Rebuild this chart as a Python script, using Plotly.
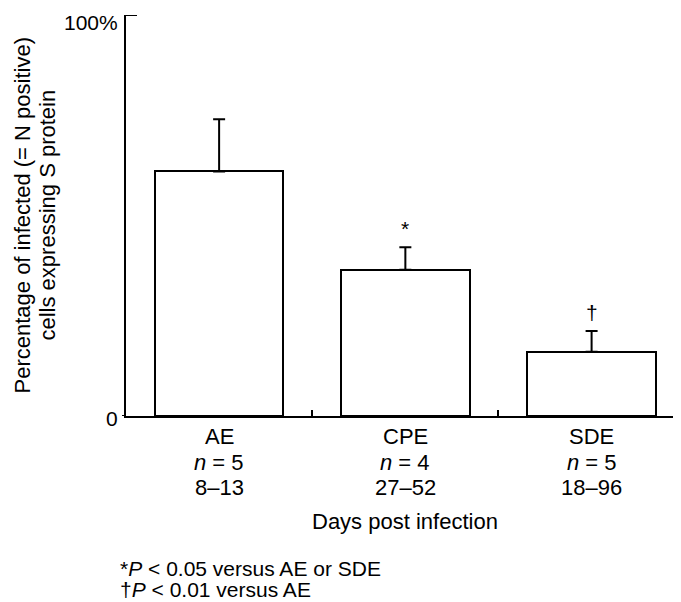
import plotly.graph_objects as go

categories = ["AE", "CPE", "SDE"]
n_labels = ["<i>n</i> = 5", "<i>n</i> = 4", "<i>n</i> = 5"]
day_ranges = ["8–13", "27–52", "18–96"]
values = [61.0, 36.5, 16.0]
errors_up = [13.0, 5.6, 5.2]
sig_marks = ["", "*", "†"]
y_tickvals = [0, 100]
y_ticktext = ["0", "100%"]
footnotes = ["*<i>P</i> < 0.05 versus AE or SDE", "†<i>P</i> < 0.01 versus AE"]
y_title_lines = ["Percentage of infected (= N positive)", "cells expressing S protein"]

FONT = "Liberation Sans, Arial, sans-serif"
xpos = list(range(len(categories)))
PLOT_W = 555.0
PLOT_H = 401.0
BASE = 416.0  # page pixel of the baseline


def py(page_y):
    return (BASE - page_y) / PLOT_H


fig = go.Figure()
fig.add_trace(go.Bar(
    x=xpos, y=values, width=0.69,
    marker=dict(color="white", line=dict(color="black", width=2)),
    error_y=dict(type="data", array=errors_up, arrayminus=[0] * len(values),
                 symmetric=False, color="black", thickness=2, width=6),
    showlegend=False,
))

tf = dict(size=22, family=FONT, color="black")
ann = []
for i, c in enumerate(categories):
    for txt, yy in ((c, 436), (n_labels[i], 462), (day_ranges[i], 488)):
        ann.append(dict(x=i, y=py(yy), xref="x", yref="paper", text=txt, showarrow=False,
                        yanchor="middle", font=tf))
    if sig_marks[i]:
        ann.append(dict(x=i, y=values[i] + errors_up[i] + 1.3, xref="x", yref="y",
                        text=sig_marks[i], showarrow=False, yanchor="bottom",
                        font=dict(size=21, family=FONT, color="black")))

ann.append(dict(x=1, y=py(521), xref="x", yref="paper", text="Days post infection",
                showarrow=False, yanchor="middle", font=tf))
for k, t in enumerate(footnotes):
    ann.append(dict(x=-8 / PLOT_W, y=py(568 + 21 * k), xref="paper", yref="paper", text=t,
                    showarrow=False, xanchor="left", yanchor="middle",
                    font=dict(size=21, family=FONT, color="black")))

for k, t in enumerate(y_title_lines):
    ann.append(dict(x=(22 + 25 * k - 126) / PLOT_W, y=0.5, xref="paper", yref="paper",
                    text=t, textangle=-90, showarrow=False, xanchor="center", yanchor="middle",
                    font=dict(size=22, family=FONT, color="black")))

# y tick labels as annotations (so the top one stays inside the page)
for v, t in zip(y_tickvals, y_ticktext):
    top = v == max(y_tickvals)
    ann.append(dict(x=-6 / PLOT_W, y=v, xref="paper", yref="y", text=t, showarrow=False,
                    xanchor="right", yanchor="top" if top else "middle",
                    yshift=6 if top else -2,
                    font=dict(size=21, family=FONT, color="black")))

fig.update_layout(
    width=673, height=594,
    margin=dict(l=118, r=0, t=7, b=186, autoexpand=False),
    paper_bgcolor="white", plot_bgcolor="white",
    annotations=ann,
    bargap=0,
    shapes=[dict(type="line", xref="paper", yref="y", x0=0, x1=11 / PLOT_W, y0=100, y1=100,
                 line=dict(color="black", width=2)),
            dict(type="line", xref="paper", yref="y", x0=-4 / PLOT_W, x1=0, y0=0, y1=0,
                 line=dict(color="black", width=2))],
    xaxis=dict(range=[-0.5, 2.48], showgrid=False, zeroline=False,
               showline=True, linecolor="black", linewidth=2,
               tickvals=[0.5, 1.5], ticks="inside", ticklen=6, tickwidth=1.5,
               tickcolor="black", showticklabels=False),
    yaxis=dict(range=[0, 100], showgrid=False, zeroline=False,
               showline=True, linecolor="black", linewidth=2,
               showticklabels=False, ticks=""),
)

fig.write_html("out.html")
